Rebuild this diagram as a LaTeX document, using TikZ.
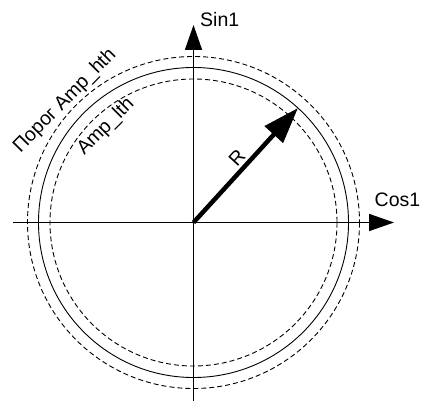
\documentclass[tikz,border=0pt]{standalone}
\usepackage{fontspec}
\setmainfont{Liberation Sans}
\usetikzlibrary{arrows.meta}
\begin{document}
\begin{tikzpicture}[x=1pt,y=-1pt,
 axis/.style={line width=1.7pt,-{Triangle[length=25pt,width=17pt]}},
 vec/.style={line width=4.5pt,-{Triangle[length=36pt,width=24pt]}},
 ring/.style={line width=0.9pt},
 dring/.style={line width=0.9pt,dash pattern=on 5pt off 3pt},
 lbl/.style={font=\fontsize{19.5}{23}\selectfont, inner sep=0pt}]
\useasboundingbox (0,0) rectangle (422,403);
\coordinate (O) at (193.5,222.5);
\coordinate (xs) at (13,222.5);
\coordinate (xe) at (394,222.5);
\coordinate (ys) at (193.5,401);
\coordinate (ye) at (193.5,25);
\coordinate (Rt) at (298,108);
\draw[dring] (O) circle[radius=166];
\draw[ring] (O) circle[radius=155];
\draw[dring] (O) circle[radius=143.5];
\draw[axis] (xs) -- (xe);
\draw[axis] (ys) -- (ye);
\draw[vec] (O) -- (Rt);
\node[lbl, anchor=base west] (sin) at (200,26.7) {Sin1};
\node[lbl, anchor=base west] (cos) at (374.5,206.5) {Cos1};
\node[lbl, rotate=47.6] (r) at (237,157.5) {R};
\node[lbl, rotate=45.5] (hth) at (65,101) {Порог Amp\_hth};
\node[lbl, rotate=45] (lth) at (106,127) {Amp\_lth};
\end{tikzpicture}
\end{document}
